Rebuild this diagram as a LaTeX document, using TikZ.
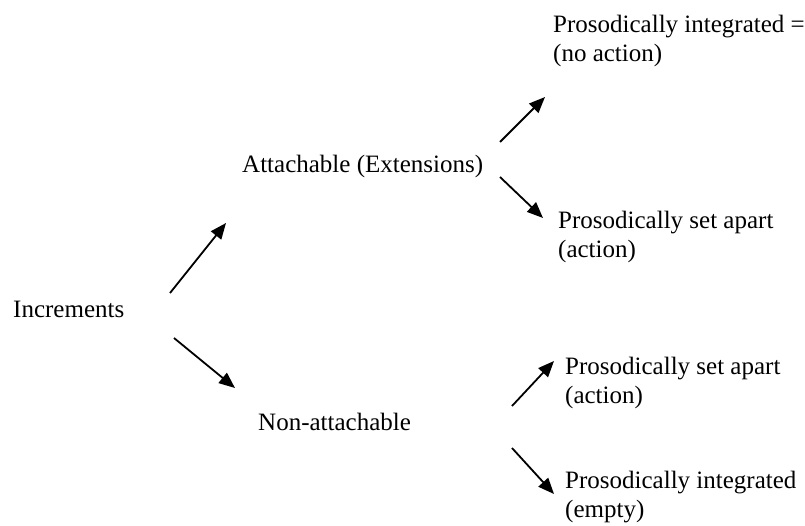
\documentclass[tikz,border=0pt]{standalone}
\usepackage{fontspec}
\setmainfont{Liberation Serif}
\usetikzlibrary{arrows.meta}

\begin{document}
\begin{tikzpicture}[
  x=1pt, y=-1pt,
  >={Triangle[length=16pt,width=13pt]},
  every node/.style={font=\fontsize{25}{29}\selectfont, inner sep=0pt, anchor=base west, align=left},
  arrow/.style={->, line width=1.8pt}
]
  \useasboundingbox (0,0) rectangle (805,525);

  %--- nodes (two-line nodes sit on their last line)
  \node (incr)   at (13,317)  {Increments};
  \node (attach) at (242,172) {Attachable (Extensions)};
  \node (nonatt) at (258,430) {Non-attachable};

  \node (intnone)  at (553,61)  {Prosodically integrated =\\(no action)};
  \node (apartone) at (558,257) {Prosodically set apart\\(action)};
  \node (aparttwo) at (565,403) {Prosodically set apart\\(action)};
  \node (intempty) at (565,517) {Prosodically integrated\\(empty)};

  %--- arrow ends
  \coordinate (incr-u)   at (170,293);
  \coordinate (attach-i) at (226,223);
  \coordinate (incr-d)   at (174,338);
  \coordinate (nonatt-i) at (235,388);

  \coordinate (attach-u) at (500,142);
  \coordinate (intnone-i) at (545,97);
  \coordinate (attach-d) at (500,177);
  \coordinate (apartone-i) at (543,218);

  \coordinate (nonatt-u) at (512,406);
  \coordinate (aparttwo-i) at (554,361);
  \coordinate (nonatt-d) at (512,448);
  \coordinate (intempty-i) at (554,494);

  %--- arrows
  \draw[arrow] (incr-u) -- (attach-i);
  \draw[arrow] (incr-d) -- (nonatt-i);
  \draw[arrow] (attach-u) -- (intnone-i);
  \draw[arrow] (attach-d) -- (apartone-i);
  \draw[arrow] (nonatt-u) -- (aparttwo-i);
  \draw[arrow] (nonatt-d) -- (intempty-i);

\end{tikzpicture}
\end{document}
